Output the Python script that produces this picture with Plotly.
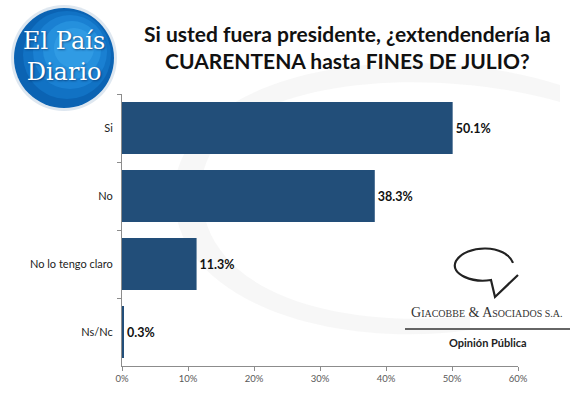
import plotly.graph_objects as go

categories = ["Si", "No", "No lo tengo claro", "Ns/Nc"]
values = [50.1, 38.3, 11.3, 0.3]
value_labels = ["50.1%", "38.3%", "11.3%", "0.3%"]
tick_vals = [0, 10, 20, 30, 40, 50, 60]
tick_text = ["0%", "10%", "20%", "30%", "40%", "50%", "60%"]

W, H = 580, 397
L, R, T, B = 122, 518, 94, 366

def px(x):
    return (x - L) / (R - L)

def py(y):
    return (B - y) / (B - T)

def path(cmds):
    out = []
    for c in cmds:
        if isinstance(c, str):
            out.append(c)
        else:
            out.append(f"{px(c[0]):.4f},{py(c[1]):.4f}")
    return " ".join(out)

BAR = "#224e79"
FONT = "Lato, 'Open Sans', sans-serif"

fig = go.Figure()
fig.add_trace(go.Bar(
    y=categories, x=values, orientation="h",
    marker=dict(color=BAR, line=dict(width=0)),
    text=value_labels, textposition="outside",
    textfont=dict(family=FONT, size=12.5, color="#111111", weight="bold"),
    cliponaxis=False, hoverinfo="skip",
))

shapes = []
annotations = []

# faint watermark arc
shapes.append(dict(type="path", xref="paper", yref="paper", layer="below",
    path=path(["M", (560, 85), "C", (420, 40), (200, 60), (175, 180),
               "C", (160, 300), (330, 350), (470, 330),
               "L", (470, 316), "C", (330, 330), (192, 290), (202, 180),
               "C", (215, 80), (420, 62), (560, 102), "Z"]),
    fillcolor="rgba(235,235,235,0.4)", line=dict(width=0)))

# El Pais Diario logo (concentric circles approximating gradient)
cx, cy, r = 64, 58, 50
shapes.append(dict(type="circle", xref="paper", yref="paper", layer="above",
    x0=px(cx - r - 3), x1=px(cx + r + 3), y0=py(cy + r + 3), y1=py(cy - r - 3),
    fillcolor="rgba(200,215,230,0.6)", line=dict(width=0)))
grad = [("#0b63b3", 0, 0, 50), ("#1172c4", 3, -3, 44), ("#1a80d2", 6, -6, 37),
        ("#2590dd", 8, -8, 29), ("#309be4", 10, -10, 20)]
for col, dx, dy, rr in grad:
    shapes.append(dict(type="circle", xref="paper", yref="paper", layer="above",
        x0=px(cx + dx - rr), x1=px(cx + dx + rr), y0=py(cy + dy + rr), y1=py(cy + dy - rr),
        fillcolor=col, line=dict(width=0)))
annotations.append(dict(xref="paper", yref="paper", x=px(cx), y=py(56),
    text="El País<br>Diario", showarrow=False, xanchor="center", yanchor="middle",
    align="center",
    font=dict(family="'DejaVu Serif', serif", size=24, color="white",
              shadow="1px 1px 2px rgba(0,40,90,0.6)")))

# Title
annotations.append(dict(xref="paper", yref="paper", x=px(347), y=py(47),
    text="Si usted fuera presidente, ¿extendendería la<br>CUARENTENA hasta FINES DE JULIO?",
    showarrow=False, xanchor="center", yanchor="middle", align="center",
    font=dict(family=FONT, size=21, color="#111111", weight="bold")))

# Giacobbe logo
shapes.append(dict(type="path", xref="paper", yref="paper",
    path=path(["M", (513, 263), "C", (506, 244), (466, 244), (456, 261),
               "C", (449, 275), (474, 283), (491, 280),
               "L", (495, 297), "L", (518, 275)]),
    line=dict(color="#222222", width=2.2)))
shapes.append(dict(type="line", xref="paper", yref="paper",
    x0=px(405), x1=px(570), y0=py(329), y1=py(329),
    line=dict(color="#333333", width=1.5)))
sc = "<span style='font-size:10px'>"
annotations.append(dict(xref="paper", yref="paper", x=px(487), y=py(322),
    text=f"G{sc}IACOBBE</span> &amp; A{sc}SOCIADOS S.A.</span>",
    showarrow=False, xanchor="center", yanchor="bottom",
    font=dict(family="'Liberation Serif', serif", size=14, color="#333333")))
annotations.append(dict(xref="paper", yref="paper", x=px(488), y=py(342),
    text="Opinión Pública", showarrow=False, xanchor="center", yanchor="middle",
    font=dict(family=FONT, size=11, color="#222222", weight="bold")))

fig.update_layout(
    width=W, height=H,
    margin=dict(l=L, r=W - R, t=T, b=H - B, pad=0),
    paper_bgcolor="white", plot_bgcolor="rgba(0,0,0,0)",
    bargap=0.235, showlegend=False,
    shapes=shapes, annotations=annotations,
    font=dict(family=FONT),
    xaxis=dict(range=[0, 60], tickvals=tick_vals, ticktext=tick_text,
               showgrid=False, zeroline=False, showline=True, linecolor="#8c8c8c",
               linewidth=1, ticks="outside", ticklen=4, tickcolor="#8c8c8c",
               tickfont=dict(family=FONT, size=9.5, color="#595959"), fixedrange=True),
    yaxis=dict(categoryorder="array", categoryarray=categories, autorange="reversed",
               showgrid=False, zeroline=False, showline=True, linecolor="#8c8c8c",
               linewidth=1, ticks="outside", ticklen=4, tickcolor="#8c8c8c",
               tickson="boundaries", ticklabelstandoff=6,
               tickfont=dict(family=FONT, size=11, color="#222222"), fixedrange=True),
)

fig.write_html("out.html", config={"displayModeBar": False},
               post_script="document.body.style.margin='0';document.body.style.overflow='hidden';")
